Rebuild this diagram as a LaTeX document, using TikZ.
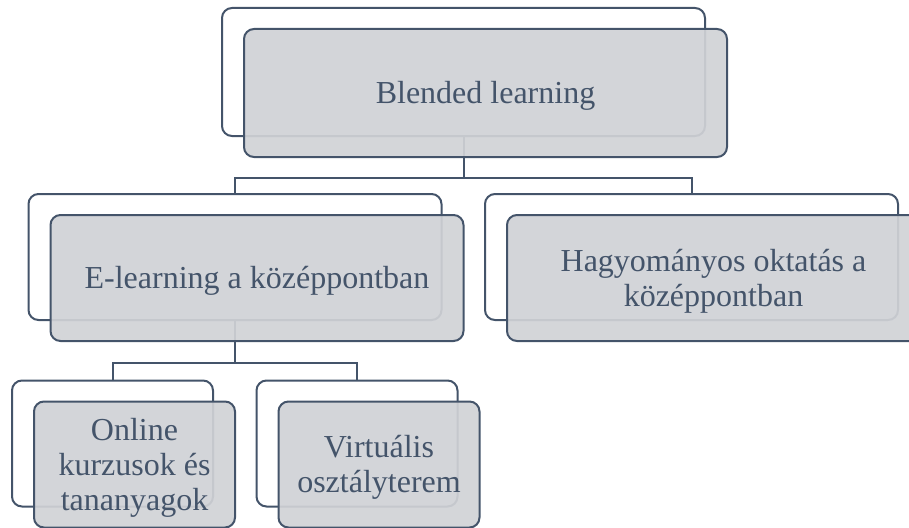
\documentclass[tikz,border=0pt]{standalone}
\usepackage{fontspec}
\setmainfont{Liberation Serif}
\definecolor{ink}{HTML}{44546A}
\definecolor{boxgray}{HTML}{D0D2D6}
\begin{document}
\begin{tikzpicture}[x=1pt,y=-1pt,
  backbox/.style={draw=ink, line width=2pt, fill=white, rounded corners=10pt,
    rectangle, inner sep=0pt},
  frontbox/.style={draw=ink, line width=2pt, fill=boxgray, fill opacity=0.92,
    rounded corners=10pt, rectangle, inner sep=0pt},
  caption/.style={text=ink, align=center, inner sep=0pt,
    font=\fontsize{32}{35}\selectfont},
  lvlA/.style={minimum width=483pt, minimum height=128pt},
  lvlB/.style={minimum width=413pt, minimum height=126pt},
  lvlC/.style={minimum width=201pt, minimum height=126pt},
  link/.style={draw=ink, line width=2pt}]
\useasboundingbox (0,0) rectangle (909,527);
\clip (0,0) rectangle (909,527);

% back frames
\node[backbox,lvlA] (b0) at (463.5,72) {};
\node[backbox,lvlB] (b1) at (235,257) {};
\node[backbox,lvlB] (b2) at (691.5,257) {};
\node[backbox,lvlC] (b3) at (112.5,443.5) {};
\node[backbox,lvlC] (b4) at (357,443.5) {};

% connectors
\draw[link] (b0.south) -- ++(0,41) -| (b1.north);
\draw[link] (b0.south) -- ++(0,41) -| (b2.north);
\draw[link] (b1.south) -- ++(0,42) -| (b3.north);
\draw[link] (b1.south) -- ++(0,42) -| (b4.north);

% front boxes
\node[frontbox,lvlA] (f0) at (485.5,93) {};
\node[frontbox,lvlB] (f1) at (257,278) {};
\node[frontbox,lvlB] (f2) at (713.5,278) {};
\node[frontbox,lvlC] (f3) at (134.5,464.5) {};
\node[frontbox,lvlC] (f4) at (379,464.5) {};

% labels, set slightly below the box centres
\node[caption] (t0) at ([yshift=-3pt]f0.center) {Blended learning};
\node[caption] (t1) at ([yshift=-3pt]f1.center) {E-learning a középpontban};
\node[caption] (t2) at ([yshift=-3pt]f2.center) {Hagyományos oktatás a\\középpontban};
\node[caption] (t3) at ([yshift=-3pt]f3.center) {Online\\kurzusok és\\tananyagok};
\node[caption] (t4) at ([yshift=-3pt]f4.center) {Virtuális\\osztályterem};
\end{tikzpicture}
\end{document}
